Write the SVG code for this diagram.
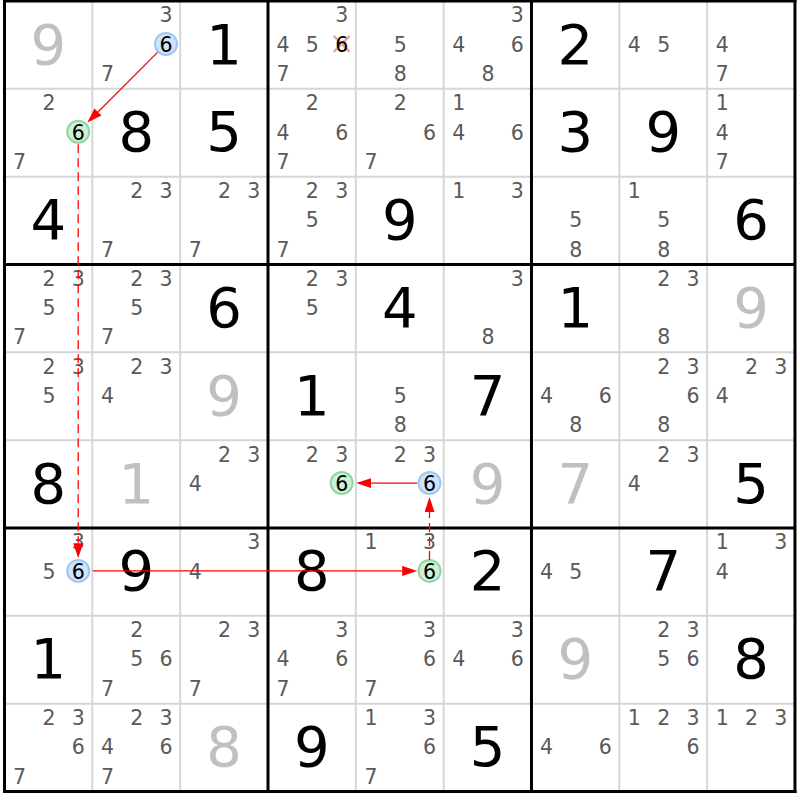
<svg xmlns="http://www.w3.org/2000/svg" width="800" height="800" viewBox="0 0 800 800">
<style>
.g{font-family:"DejaVu Sans","Liberation Sans",sans-serif;font-size:56px;text-anchor:middle;fill:#000}
.s{font-family:"DejaVu Sans","Liberation Sans",sans-serif;font-size:56px;text-anchor:middle;fill:#c0c0c0}
.c{font-family:"DejaVu Sans","Liberation Sans",sans-serif;font-size:20.5px;text-anchor:middle;fill:#5a5a5a}
.h{font-family:"DejaVu Sans","Liberation Sans",sans-serif;font-size:20.5px;text-anchor:middle;fill:#000}
.cb{fill:#cfe3fb;stroke:#9ec6f0;stroke-width:2}
.cg{fill:#cdf0d6;stroke:#8fd6a0;stroke-width:2}
.x{stroke:#f4a0a0;stroke-width:2.5}
.thin{stroke:#d6d6d6;stroke-width:2}
.thick{stroke:#000;stroke-width:3}
.arr{stroke:#f00;stroke-width:1.3;fill:none}
.dash{stroke-dasharray:9 5}
</style>
<defs>
<marker id="ah" markerWidth="16" markerHeight="10" refX="0" refY="5" orient="auto" markerUnits="userSpaceOnUse"><path d="M0,0 L15,5 L0,10 z" fill="#f00"/></marker>
</defs>
<rect x="0" y="0" width="800" height="800" fill="#fff"/>
<g id="grid">
<g class="thin">
<line x1="92.33" y1="1" x2="92.33" y2="791.47"/><line x1="180.16" y1="1" x2="180.16" y2="791.47"/>
<line x1="355.82" y1="1" x2="355.82" y2="791.47"/><line x1="443.65" y1="1" x2="443.65" y2="791.47"/>
<line x1="619.31" y1="1" x2="619.31" y2="791.47"/><line x1="707.14" y1="1" x2="707.14" y2="791.47"/>
<line x1="4.5" y1="88.83" x2="794.97" y2="88.83"/><line x1="4.5" y1="176.66" x2="794.97" y2="176.66"/>
<line x1="4.5" y1="352.32" x2="794.97" y2="352.32"/><line x1="4.5" y1="440.15" x2="794.97" y2="440.15"/>
<line x1="4.5" y1="615.81" x2="794.97" y2="615.81"/><line x1="4.5" y1="703.64" x2="794.97" y2="703.64"/>
</g>
<g class="thick">
<line x1="4.5" y1="-0.5" x2="4.5" y2="792.97"/><line x1="267.99" y1="1" x2="267.99" y2="791.47"/>
<line x1="531.48" y1="1" x2="531.48" y2="791.47"/><line x1="794.97" y1="-0.5" x2="794.97" y2="792.97"/>
<line x1="3" y1="1" x2="796.47" y2="1"/><line x1="4.5" y1="264.49" x2="794.97" y2="264.49"/>
<line x1="4.5" y1="527.98" x2="794.97" y2="527.98"/><line x1="3" y1="791.47" x2="796.47" y2="791.47"/>
</g>
</g>
<g id="cells">
<!-- row 1 -->
<g id="r1c1" transform="translate(4.5,1)"><text class="s" x="43.9" y="62.5">9</text></g>
<g id="r1c2" transform="translate(92.33,1)"><text class="c" x="73.7" y="21.4">3</text><circle class="cb" cx="73.7" cy="42.9" r="11"/><text class="h" x="73.7" y="50.7">6</text><text class="c" x="15.1" y="80">7</text></g>
<g id="r1c3" transform="translate(180.16,1)"><text class="g" x="43.9" y="62.5">1</text></g>
<g id="r1c4" transform="translate(267.99,1)"><text class="c" x="73.7" y="21.4">3</text><text class="c" x="15.1" y="50.7">4</text><text class="c" x="44.4" y="50.7">5</text><line class="x" x1="65.7" y1="34.9" x2="81.7" y2="50.9"/><line class="x" x1="81.7" y1="34.9" x2="65.7" y2="50.9"/><text class="h" x="73.7" y="50.7">6</text><text class="c" x="15.1" y="80">7</text></g>
<g id="r1c5" transform="translate(355.82,1)"><text class="c" x="44.4" y="50.7">5</text><text class="c" x="44.4" y="80">8</text></g>
<g id="r1c6" transform="translate(443.65,1)"><text class="c" x="73.7" y="21.4">3</text><text class="c" x="15.1" y="50.7">4</text><text class="c" x="73.7" y="50.7">6</text><text class="c" x="44.4" y="80">8</text></g>
<g id="r1c7" transform="translate(531.48,1)"><text class="g" x="43.9" y="62.5">2</text></g>
<g id="r1c8" transform="translate(619.31,1)"><text class="c" x="15.1" y="50.7">4</text><text class="c" x="44.4" y="50.7">5</text></g>
<g id="r1c9" transform="translate(707.14,1)"><text class="c" x="15.1" y="50.7">4</text><text class="c" x="15.1" y="80">7</text></g>
<!-- row 2 -->
<g id="r2c1" transform="translate(4.5,88.83)"><text class="c" x="44.4" y="21.4">2</text><circle class="cg" cx="73.7" cy="42.9" r="11"/><text class="h" x="73.7" y="50.7">6</text><text class="c" x="15.1" y="80">7</text></g>
<g id="r2c2" transform="translate(92.33,88.83)"><text class="g" x="43.9" y="62.5">8</text></g>
<g id="r2c3" transform="translate(180.16,88.83)"><text class="g" x="43.9" y="62.5">5</text></g>
<g id="r2c4" transform="translate(267.99,88.83)"><text class="c" x="44.4" y="21.4">2</text><text class="c" x="15.1" y="50.7">4</text><text class="c" x="73.7" y="50.7">6</text><text class="c" x="15.1" y="80">7</text></g>
<g id="r2c5" transform="translate(355.82,88.83)"><text class="c" x="44.4" y="21.4">2</text><text class="c" x="73.7" y="50.7">6</text><text class="c" x="15.1" y="80">7</text></g>
<g id="r2c6" transform="translate(443.65,88.83)"><text class="c" x="15.1" y="21.4">1</text><text class="c" x="15.1" y="50.7">4</text><text class="c" x="73.7" y="50.7">6</text></g>
<g id="r2c7" transform="translate(531.48,88.83)"><text class="g" x="43.9" y="62.5">3</text></g>
<g id="r2c8" transform="translate(619.31,88.83)"><text class="g" x="43.9" y="62.5">9</text></g>
<g id="r2c9" transform="translate(707.14,88.83)"><text class="c" x="15.1" y="21.4">1</text><text class="c" x="15.1" y="50.7">4</text><text class="c" x="15.1" y="80">7</text></g>
<!-- row 3 -->
<g id="r3c1" transform="translate(4.5,176.66)"><text class="g" x="43.9" y="62.5">4</text></g>
<g id="r3c2" transform="translate(92.33,176.66)"><text class="c" x="44.4" y="21.4">2</text><text class="c" x="73.7" y="21.4">3</text><text class="c" x="15.1" y="80">7</text></g>
<g id="r3c3" transform="translate(180.16,176.66)"><text class="c" x="44.4" y="21.4">2</text><text class="c" x="73.7" y="21.4">3</text><text class="c" x="15.1" y="80">7</text></g>
<g id="r3c4" transform="translate(267.99,176.66)"><text class="c" x="44.4" y="21.4">2</text><text class="c" x="73.7" y="21.4">3</text><text class="c" x="44.4" y="50.7">5</text><text class="c" x="15.1" y="80">7</text></g>
<g id="r3c5" transform="translate(355.82,176.66)"><text class="g" x="43.9" y="62.5">9</text></g>
<g id="r3c6" transform="translate(443.65,176.66)"><text class="c" x="15.1" y="21.4">1</text><text class="c" x="73.7" y="21.4">3</text></g>
<g id="r3c7" transform="translate(531.48,176.66)"><text class="c" x="44.4" y="50.7">5</text><text class="c" x="44.4" y="80">8</text></g>
<g id="r3c8" transform="translate(619.31,176.66)"><text class="c" x="15.1" y="21.4">1</text><text class="c" x="44.4" y="50.7">5</text><text class="c" x="44.4" y="80">8</text></g>
<g id="r3c9" transform="translate(707.14,176.66)"><text class="g" x="43.9" y="62.5">6</text></g>
<!-- row 4 -->
<g id="r4c1" transform="translate(4.5,264.49)"><text class="c" x="44.4" y="21.4">2</text><text class="c" x="73.7" y="21.4">3</text><text class="c" x="44.4" y="50.7">5</text><text class="c" x="15.1" y="80">7</text></g>
<g id="r4c2" transform="translate(92.33,264.49)"><text class="c" x="44.4" y="21.4">2</text><text class="c" x="73.7" y="21.4">3</text><text class="c" x="44.4" y="50.7">5</text><text class="c" x="15.1" y="80">7</text></g>
<g id="r4c3" transform="translate(180.16,264.49)"><text class="g" x="43.9" y="62.5">6</text></g>
<g id="r4c4" transform="translate(267.99,264.49)"><text class="c" x="44.4" y="21.4">2</text><text class="c" x="73.7" y="21.4">3</text><text class="c" x="44.4" y="50.7">5</text></g>
<g id="r4c5" transform="translate(355.82,264.49)"><text class="g" x="43.9" y="62.5">4</text></g>
<g id="r4c6" transform="translate(443.65,264.49)"><text class="c" x="73.7" y="21.4">3</text><text class="c" x="44.4" y="80">8</text></g>
<g id="r4c7" transform="translate(531.48,264.49)"><text class="g" x="43.9" y="62.5">1</text></g>
<g id="r4c8" transform="translate(619.31,264.49)"><text class="c" x="44.4" y="21.4">2</text><text class="c" x="73.7" y="21.4">3</text><text class="c" x="44.4" y="80">8</text></g>
<g id="r4c9" transform="translate(707.14,264.49)"><text class="s" x="43.9" y="62.5">9</text></g>
<!-- row 5 -->
<g id="r5c1" transform="translate(4.5,352.32)"><text class="c" x="44.4" y="21.4">2</text><text class="c" x="73.7" y="21.4">3</text><text class="c" x="44.4" y="50.7">5</text></g>
<g id="r5c2" transform="translate(92.33,352.32)"><text class="c" x="44.4" y="21.4">2</text><text class="c" x="73.7" y="21.4">3</text><text class="c" x="15.1" y="50.7">4</text></g>
<g id="r5c3" transform="translate(180.16,352.32)"><text class="s" x="43.9" y="62.5">9</text></g>
<g id="r5c4" transform="translate(267.99,352.32)"><text class="g" x="43.9" y="62.5">1</text></g>
<g id="r5c5" transform="translate(355.82,352.32)"><text class="c" x="44.4" y="50.7">5</text><text class="c" x="44.4" y="80">8</text></g>
<g id="r5c6" transform="translate(443.65,352.32)"><text class="g" x="43.9" y="62.5">7</text></g>
<g id="r5c7" transform="translate(531.48,352.32)"><text class="c" x="15.1" y="50.7">4</text><text class="c" x="73.7" y="50.7">6</text><text class="c" x="44.4" y="80">8</text></g>
<g id="r5c8" transform="translate(619.31,352.32)"><text class="c" x="44.4" y="21.4">2</text><text class="c" x="73.7" y="21.4">3</text><text class="c" x="73.7" y="50.7">6</text><text class="c" x="44.4" y="80">8</text></g>
<g id="r5c9" transform="translate(707.14,352.32)"><text class="c" x="44.4" y="21.4">2</text><text class="c" x="73.7" y="21.4">3</text><text class="c" x="15.1" y="50.7">4</text></g>
<!-- row 6 -->
<g id="r6c1" transform="translate(4.5,440.15)"><text class="g" x="43.9" y="62.5">8</text></g>
<g id="r6c2" transform="translate(92.33,440.15)"><text class="s" x="43.9" y="62.5">1</text></g>
<g id="r6c3" transform="translate(180.16,440.15)"><text class="c" x="44.4" y="21.4">2</text><text class="c" x="73.7" y="21.4">3</text><text class="c" x="15.1" y="50.7">4</text></g>
<g id="r6c4" transform="translate(267.99,440.15)"><text class="c" x="44.4" y="21.4">2</text><text class="c" x="73.7" y="21.4">3</text><circle class="cg" cx="73.7" cy="42.9" r="11"/><text class="h" x="73.7" y="50.7">6</text></g>
<g id="r6c5" transform="translate(355.82,440.15)"><text class="c" x="44.4" y="21.4">2</text><text class="c" x="73.7" y="21.4">3</text><circle class="cb" cx="73.7" cy="42.9" r="11"/><text class="h" x="73.7" y="50.7">6</text></g>
<g id="r6c6" transform="translate(443.65,440.15)"><text class="s" x="43.9" y="62.5">9</text></g>
<g id="r6c7" transform="translate(531.48,440.15)"><text class="s" x="43.9" y="62.5">7</text></g>
<g id="r6c8" transform="translate(619.31,440.15)"><text class="c" x="44.4" y="21.4">2</text><text class="c" x="73.7" y="21.4">3</text><text class="c" x="15.1" y="50.7">4</text></g>
<g id="r6c9" transform="translate(707.14,440.15)"><text class="g" x="43.9" y="62.5">5</text></g>
<!-- row 7 -->
<g id="r7c1" transform="translate(4.5,527.98)"><text class="c" x="73.7" y="21.4">3</text><text class="c" x="44.4" y="50.7">5</text><circle class="cb" cx="73.7" cy="42.9" r="11"/><text class="h" x="73.7" y="50.7">6</text></g>
<g id="r7c2" transform="translate(92.33,527.98)"><text class="g" x="43.9" y="62.5">9</text></g>
<g id="r7c3" transform="translate(180.16,527.98)"><text class="c" x="73.7" y="21.4">3</text><text class="c" x="15.1" y="50.7">4</text></g>
<g id="r7c4" transform="translate(267.99,527.98)"><text class="g" x="43.9" y="62.5">8</text></g>
<g id="r7c5" transform="translate(355.82,527.98)"><text class="c" x="15.1" y="21.4">1</text><text class="c" x="73.7" y="21.4">3</text><circle class="cg" cx="73.7" cy="42.9" r="11"/><text class="h" x="73.7" y="50.7">6</text></g>
<g id="r7c6" transform="translate(443.65,527.98)"><text class="g" x="43.9" y="62.5">2</text></g>
<g id="r7c7" transform="translate(531.48,527.98)"><text class="c" x="15.1" y="50.7">4</text><text class="c" x="44.4" y="50.7">5</text></g>
<g id="r7c8" transform="translate(619.31,527.98)"><text class="g" x="43.9" y="62.5">7</text></g>
<g id="r7c9" transform="translate(707.14,527.98)"><text class="c" x="15.1" y="21.4">1</text><text class="c" x="73.7" y="21.4">3</text><text class="c" x="15.1" y="50.7">4</text></g>
<!-- row 8 -->
<g id="r8c1" transform="translate(4.5,615.81)"><text class="g" x="43.9" y="62.5">1</text></g>
<g id="r8c2" transform="translate(92.33,615.81)"><text class="c" x="44.4" y="21.4">2</text><text class="c" x="44.4" y="50.7">5</text><text class="c" x="73.7" y="50.7">6</text><text class="c" x="15.1" y="80">7</text></g>
<g id="r8c3" transform="translate(180.16,615.81)"><text class="c" x="44.4" y="21.4">2</text><text class="c" x="73.7" y="21.4">3</text><text class="c" x="15.1" y="80">7</text></g>
<g id="r8c4" transform="translate(267.99,615.81)"><text class="c" x="73.7" y="21.4">3</text><text class="c" x="15.1" y="50.7">4</text><text class="c" x="73.7" y="50.7">6</text><text class="c" x="15.1" y="80">7</text></g>
<g id="r8c5" transform="translate(355.82,615.81)"><text class="c" x="73.7" y="21.4">3</text><text class="c" x="73.7" y="50.7">6</text><text class="c" x="15.1" y="80">7</text></g>
<g id="r8c6" transform="translate(443.65,615.81)"><text class="c" x="73.7" y="21.4">3</text><text class="c" x="15.1" y="50.7">4</text><text class="c" x="73.7" y="50.7">6</text></g>
<g id="r8c7" transform="translate(531.48,615.81)"><text class="s" x="43.9" y="62.5">9</text></g>
<g id="r8c8" transform="translate(619.31,615.81)"><text class="c" x="44.4" y="21.4">2</text><text class="c" x="73.7" y="21.4">3</text><text class="c" x="44.4" y="50.7">5</text><text class="c" x="73.7" y="50.7">6</text></g>
<g id="r8c9" transform="translate(707.14,615.81)"><text class="g" x="43.9" y="62.5">8</text></g>
<!-- row 9 -->
<g id="r9c1" transform="translate(4.5,703.64)"><text class="c" x="44.4" y="21.4">2</text><text class="c" x="73.7" y="21.4">3</text><text class="c" x="73.7" y="50.7">6</text><text class="c" x="15.1" y="80">7</text></g>
<g id="r9c2" transform="translate(92.33,703.64)"><text class="c" x="44.4" y="21.4">2</text><text class="c" x="73.7" y="21.4">3</text><text class="c" x="15.1" y="50.7">4</text><text class="c" x="73.7" y="50.7">6</text><text class="c" x="15.1" y="80">7</text></g>
<g id="r9c3" transform="translate(180.16,703.64)"><text class="s" x="43.9" y="62.5">8</text></g>
<g id="r9c4" transform="translate(267.99,703.64)"><text class="g" x="43.9" y="62.5">9</text></g>
<g id="r9c5" transform="translate(355.82,703.64)"><text class="c" x="15.1" y="21.4">1</text><text class="c" x="73.7" y="21.4">3</text><text class="c" x="73.7" y="50.7">6</text><text class="c" x="15.1" y="80">7</text></g>
<g id="r9c6" transform="translate(443.65,703.64)"><text class="g" x="43.9" y="62.5">5</text></g>
<g id="r9c7" transform="translate(531.48,703.64)"><text class="c" x="15.1" y="50.7">4</text><text class="c" x="73.7" y="50.7">6</text></g>
<g id="r9c8" transform="translate(619.31,703.64)"><text class="c" x="15.1" y="21.4">1</text><text class="c" x="44.4" y="21.4">2</text><text class="c" x="73.7" y="21.4">3</text><text class="c" x="73.7" y="50.7">6</text></g>
<g id="r9c9" transform="translate(707.14,703.64)"><text class="c" x="15.1" y="21.4">1</text><text class="c" x="44.4" y="21.4">2</text><text class="c" x="73.7" y="21.4">3</text></g>
</g>
<g id="connectors">
<line class="arr" x1="157.54" y1="52.41" x2="98.0" y2="111.95" marker-end="url(#ah)"/>
<line class="arr dash" x1="78.2" y1="144.3" x2="78.2" y2="543.2" marker-end="url(#ah)"/>
<line class="arr" x1="92.7" y1="570.9" x2="402.2" y2="570.9" marker-end="url(#ah)"/>
<line class="arr dash" x1="429.5" y1="559.9" x2="429.5" y2="512.1" marker-end="url(#ah)"/>
<line class="arr" x1="417.2" y1="483.1" x2="371.2" y2="483.1" marker-end="url(#ah)"/>
</g>
</svg>
